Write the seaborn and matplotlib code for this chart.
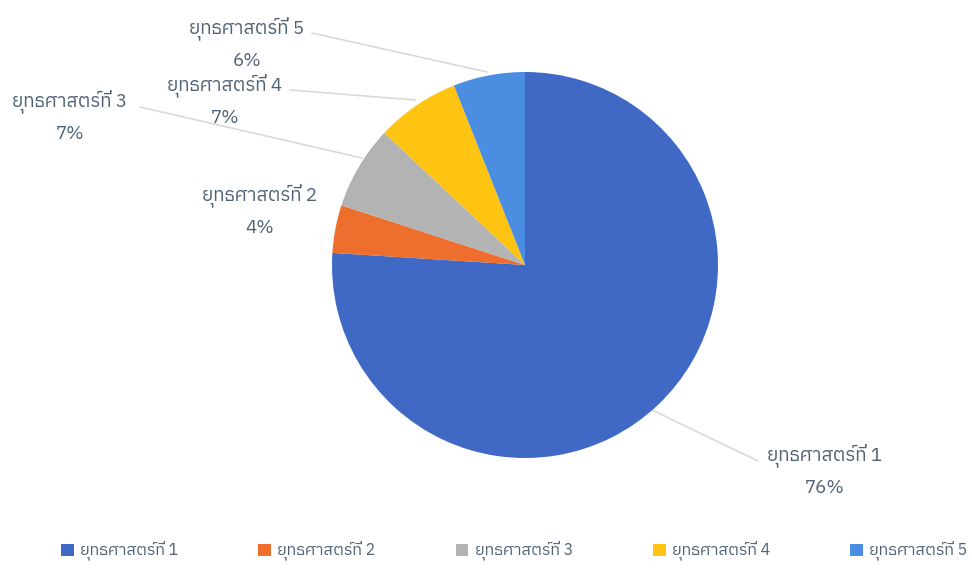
import matplotlib
matplotlib.use("Agg")
import matplotlib.pyplot as plt
import seaborn as sns
import numpy as np
from matplotlib import font_manager as fm
from matplotlib.ft2font import FT2Font
from matplotlib.patches import Patch

# ---------------- data ----------------
categories = ["ยุทธศาสตร์ที่ 1", "ยุทธศาสตร์ที่ 2", "ยุทธศาสตร์ที่ 3",
              "ยุทธศาสตร์ที่ 4", "ยุทธศาสตร์ที่ 5"]
values = [76, 4, 7, 7, 6]
pct_labels = ["76%", "4%", "7%", "7%", "6%"]
colors = ["#3F69C4", "#EE6E2E", "#B3B3B3", "#FFC312", "#4B8DE0"]

# ---------------- fonts ----------------
sns.set_theme(style="white")

def has_thai(path):
    try:
        cm = FT2Font(path).get_charmap()
        return all(ord(c) in cm for c in "ยุทธศาสตร์ที่")
    except Exception:
        return False

thai_font = None
cands = sorted(fm.fontManager.ttflist, key=lambda f: (0 if "thai" in f.name.lower() else 1, f.name))
for f in cands:
    if has_thai(f.fname):
        thai_font = f.name
        break
families = ([thai_font] if thai_font else []) + ["DejaVu Sans"]
plt.rcParams["font.family"] = families

W, H = 972, 569
fig = plt.figure(figsize=(W / 100, H / 100), dpi=100)
ax = fig.add_axes([0, 0, 1, 1])

cx, cy, R = 525, 265, 193  # pixel layout of the pie

wedges, _ = ax.pie(values, colors=colors, startangle=90, counterclock=False,
                   radius=1.0, center=(0, 0), wedgeprops=dict(linewidth=0))
ax.set_aspect("auto")
ax.set_xlim(-cx / R, (W - cx) / R)
ax.set_ylim(-(H - cy) / R, cy / R)
ax.axis("off")

def px(x, y):
    return ((x - cx) / R, (cy - y) / R)

txt_col = "#4F6176"
# label positions (pixels, centre of name line) and leader lines
label_pos = [(825, 455), (260, 195), (70, 101), (225, 85), (247, 28)]
leaders = [((652, 410), (758, 461)), None, ((140, 107), (362, 158)),
           ((290, 90), (415, 100)), ((312, 33), (487, 72))]

for i, (name, pct) in enumerate(zip(categories, pct_labels)):
    lx, ly = label_pos[i]
    ax.text(*px(lx, ly), name, ha="center", va="center", fontsize=13.5, color=txt_col)
    ax.text(*px(lx, ly + 33), pct, ha="center", va="center", fontsize=13.5, color=txt_col)
    if leaders[i] is not None:
        (x0, y0), (x1, y1) = leaders[i]
        p0, p1 = px(x0, y0), px(x1, y1)
        ax.plot([p0[0], p1[0]], [p0[1], p1[1]], color="#D9D9D9", lw=1.2, zorder=0)

handles = [Patch(facecolor=c, edgecolor="none") for c in colors]
fig.legend(handles, categories, loc="center", bbox_to_anchor=(0.529, 1 - 551 / H),
           ncol=5, frameon=False, fontsize=11.5, labelcolor=txt_col,
           handlelength=0.8, handleheight=0.8, handletextpad=0.4, columnspacing=5.0)

fig.savefig("out.png", dpi=100, facecolor="white")
